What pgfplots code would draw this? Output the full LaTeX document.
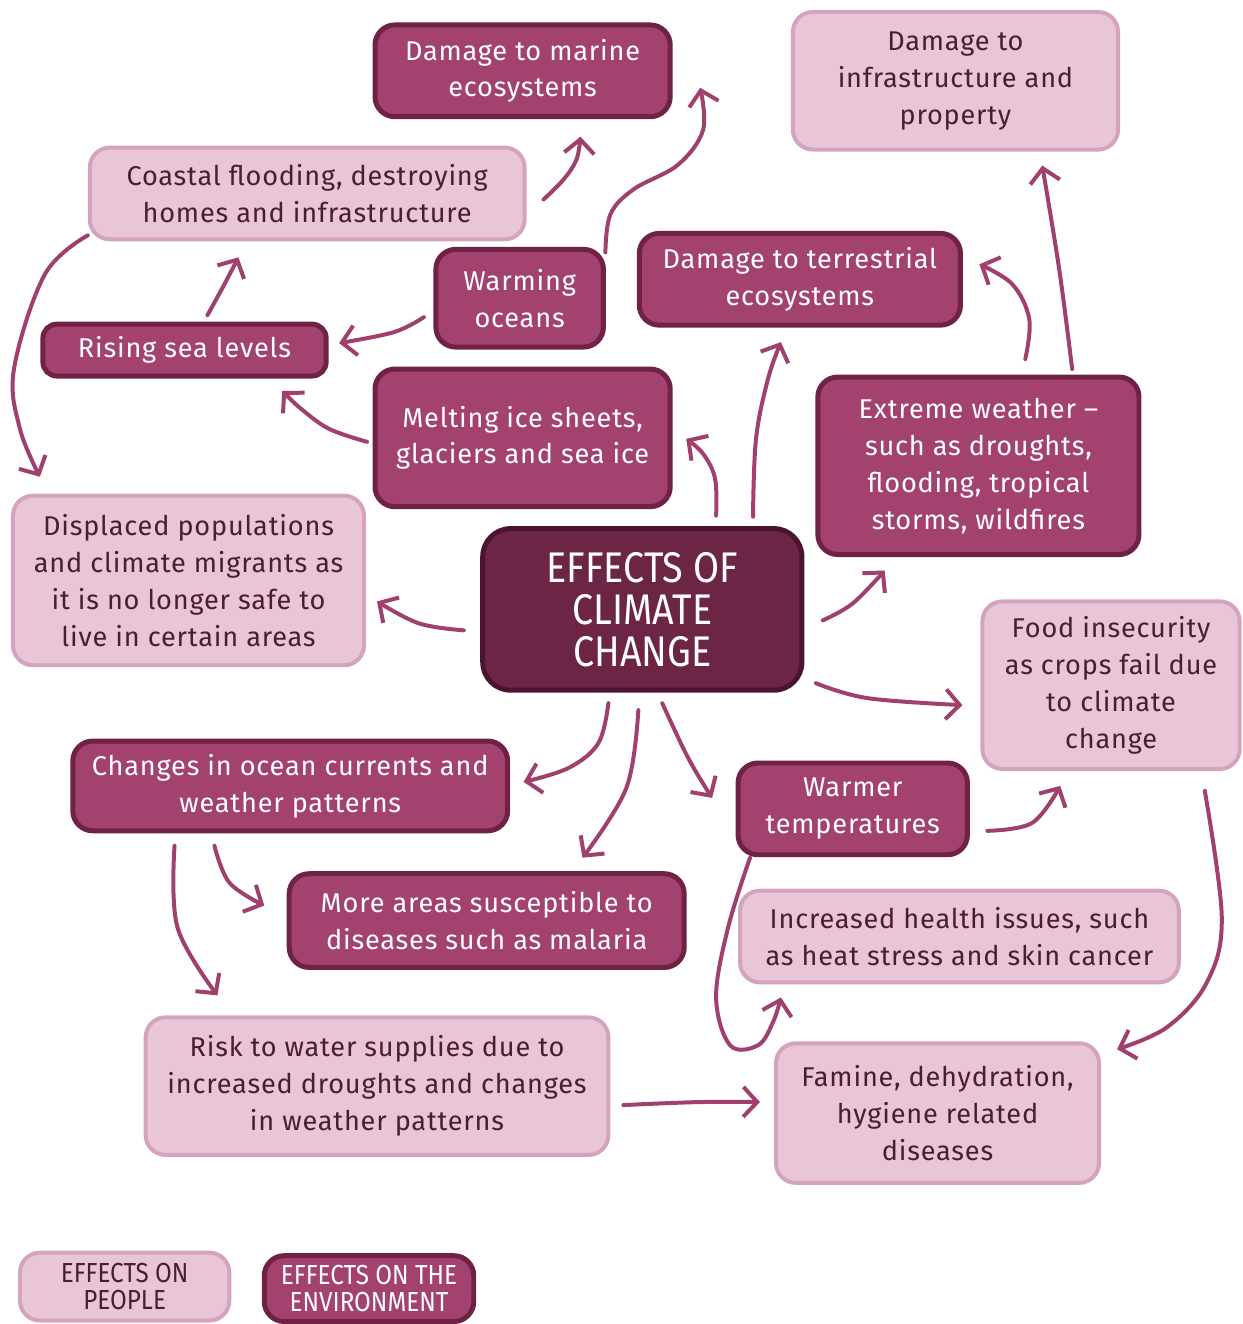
\documentclass[border=0pt]{standalone}
\usepackage{fontspec}
\setmainfont[LetterSpace=3]{Fira Sans}
\newfontfamily\cond[FakeStretch=0.88]{Fira Sans}
\usepackage{pgfplots}
\pgfplotsset{compat=1.18}
\usetikzlibrary{arrows.meta}
\definecolor{envfill}{HTML}{A3426F}
\definecolor{envborder}{HTML}{6F2146}
\definecolor{cfill}{HTML}{6D2545}
\definecolor{cborder}{HTML}{4A1430}
\definecolor{pplfill}{HTML}{E8C5D7}
\definecolor{pplborder}{HTML}{D4A3BD}
\definecolor{ppltext}{HTML}{4B1D34}
\definecolor{arrowc}{HTML}{A0406E}
\begin{document}
\begin{tikzpicture}[
  box/.style={rounded corners=10pt, align=center, inner sep=0pt, font=\fontsize{13.6}{18.5}\selectfont},
  env/.style={box, fill=envfill, draw=envborder, line width=2.5pt, text=white},
  ppl/.style={box, fill=pplfill, draw=pplborder, line width=2pt, text=ppltext},
  ctr/.style={box, fill=cfill, draw=cborder, line width=2.5pt, text=white, rounded corners=14pt, font=\cond\fontsize{21.5}{21}\selectfont},
]
\begin{axis}[scale only axis, width=623pt, height=662pt,
  xmin=0, xmax=1246, ymin=0, ymax=1324, y dir=reverse, hide axis, clip=false,
  arr/.style={color=arrowc, line width=2pt, line cap=round, smooth, tension=0.6,
    -{Straight Barb[length=7pt,width=15pt,line width=2pt]}}]
\addplot[draw=none] coordinates {(0,0) (1246,1324)};
% arrows
\addplot[arr] coordinates {(545,200) (565,180) (578,160) (582,137)};
\addplot[arr] coordinates {(607,253) (612,215) (635,190) (680,165) (705,130) (702,88)};
\addplot[arr] coordinates {(425,318) (395,333) (340,344)};
\addplot[arr] coordinates {(208,316) (225,285) (239,258)};
\addplot[arr] coordinates {(88,236) (45,275) (14,370) (20,430) (40,478)};
\addplot[arr] coordinates {(368,443) (330,430) (302,410) (283,392)};
\addplot[arr] coordinates {(718,517) (717,480) (705,455) (688,440)};
\addplot[arr] coordinates {(755,518) (758,440) (770,380) (783,343)};
\addplot[arr] coordinates {(1028,360) (1032,320) (1015,285) (982,265)};
\addplot[arr] coordinates {(1075,370) (1062,270) (1045,166)};
\addplot[arr] coordinates {(825,622) (855,605) (887,572)};
\addplot[arr] coordinates {(465,632) (420,625) (378,603)};
\addplot[arr] coordinates {(818,685) (870,700) (965,707)};
\addplot[arr] coordinates {(610,705) (600,745) (570,770) (525,784)};
\addplot[arr] coordinates {(640,712) (628,790) (584,860)};
\addplot[arr] coordinates {(664,705) (690,760) (714,800)};
\addplot[arr] coordinates {(990,833) (1035,825) (1063,788)};
\addplot[arr] coordinates {(1208,793) (1225,920) (1210,985) (1170,1030) (1120,1052)};
\addplot[arr] coordinates {(752,860) (730,930) (718,1000) (732,1048) (760,1048) (775,1025) (783,1000)};
\addplot[arr] coordinates {(215,848) (230,885) (265,908)};
\addplot[arr] coordinates {(175,848) (178,930) (218,998)};
\addplot[arr] coordinates {(625,1108) (700,1105) (762,1105)};
% boxes
\node[env, minimum width=148pt, minimum height=46pt] at (axis cs:524,71) {Damage to marine\\ecosystems};
\node[ppl, minimum width=163pt, minimum height=69pt] at (axis cs:958,81) {Damage to\\infrastructure and\\property};
\node[ppl, minimum width=218pt, minimum height=46pt] at (axis cs:308,194) {Coastal flooding, destroying\\homes and infrastructure};
\node[env, minimum width=84pt, minimum height=49pt] at (axis cs:521,299) {Warming\\oceans};
\node[env, minimum width=161pt, minimum height=46pt] at (axis cs:802,280) {Damage to terrestrial\\ecosystems};
\node[env, minimum width=142pt, minimum height=26pt, rounded corners=7pt] at (axis cs:185,351) {Rising sea levels};
\node[env, minimum width=148pt, minimum height=69pt] at (axis cs:524,439) {Melting ice sheets,\\glaciers and sea ice};
\node[env, minimum width=161pt, minimum height=89pt] at (axis cs:981,467) {Extreme weather –\\such as droughts,\\flooding, tropical\\storms, wildfires};
\node[ppl, minimum width=176pt, minimum height=85pt] at (axis cs:189,582) {Displaced populations\\and climate migrants as\\it is no longer safe to\\live in certain areas};
\node[ctr, minimum width=160pt, minimum height=81pt] at (axis cs:644,611) {EFFECTS OF\\CLIMATE\\CHANGE};
\node[ppl, minimum width=129pt, minimum height=84pt] at (axis cs:1114,687) {Food insecurity\\as crops fail due\\to climate\\change};
\node[env, minimum width=218pt, minimum height=45pt] at (axis cs:291,788) {Changes in ocean currents and\\weather patterns};
\node[env, minimum width=115pt, minimum height=46pt] at (axis cs:855,811) {Warmer\\temperatures};
\node[env, minimum width=198pt, minimum height=47pt] at (axis cs:488,923) {More areas susceptible to\\diseases such as malaria};
\node[ppl, minimum width=220pt, minimum height=46pt] at (axis cs:962,939) {Increased health issues, such\\as heat stress and skin cancer};
\node[ppl, minimum width=232pt, minimum height=69pt] at (axis cs:378,1089) {Risk to water supplies due to\\increased droughts and changes\\in weather patterns};
\node[ppl, minimum width=162pt, minimum height=70pt] at (axis cs:940,1116) {Famine, dehydration,\\hygiene related\\diseases};
% legend
\node[ppl, minimum width=105pt, minimum height=34pt, font=\cond\fontsize{13.8}{13.5}\selectfont] at (axis cs:125,1290) {EFFECTS ON\\PEOPLE};
\node[env, minimum width=105pt, minimum height=33pt, font=\cond\fontsize{13.8}{13.5}\selectfont] at (axis cs:370,1292) {EFFECTS ON THE\\ENVIRONMENT};
\end{axis}
\end{tikzpicture}
\end{document}
